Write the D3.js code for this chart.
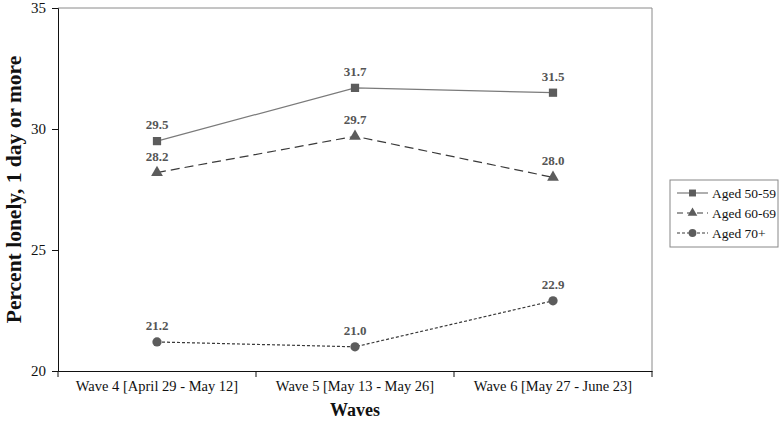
<!DOCTYPE html>
<html>
<head>
<meta charset="utf-8">
<script src="https://cdn.jsdelivr.net/npm/d3@7"></script>
<style>
  body { margin: 0; background: #fff; }
  svg { display: block; font-family: "Liberation Serif", "Times New Roman", serif; }
</style>
</head>
<body>
<svg id="chart" width="780" height="422"></svg>
<script>
const waves = ['Wave 4 [April 29 - May 12]', 'Wave 5 [May 13 - May 26]', 'Wave 6 [May 27 - June 23]']
const groups = ['Aged 50-59', 'Aged 60-69', 'Aged 70+']
const aged5059 = [29.5, 31.7, 31.5]
const aged6069 = [28.2, 29.7, 28.0]
const aged70 = [21.2, 21.0, 22.9]
const yTicks = [20, 25, 30, 35]

const series = [
  { name: groups[0], values: aged5059, shape: d3.symbolSquare, dash: null, stroke: '#7a7a7a' },
  { name: groups[1], values: aged6069, shape: d3.symbolTriangle, dash: '9,5', stroke: '#3a3a3a' },
  { name: groups[2], values: aged70, shape: d3.symbolCircle, dash: '3,2', stroke: '#3a3a3a' }
]

const svg = d3.select('#chart')
const margin = { left: 58, right: 128, top: 8, bottom: 51 }
const width = 780 - margin.left - margin.right
const height = 422 - margin.top - margin.bottom

const x = d3.scaleBand().domain(waves).range([0, width])
const y = d3.scaleLinear().domain([20, 35]).range([height, 0])

const g = svg.append('g').attr('transform', `translate(${margin.left},${margin.top})`)

// grey frame on top and right
g.append('path')
  .attr('d', `M0,0H${width}V${height}`)
  .attr('fill', 'none')
  .attr('stroke', '#8a8a8a')
  .attr('stroke-width', 1)

const xAxis = g.append('g')
  .attr('transform', `translate(0,${height})`)
  .call(d3.axisBottom(x).tickSize(0).tickPadding(10))
xAxis.selectAll('text').attr('font-size', 14.5).attr('fill', '#111').attr('font-family', 'Liberation Serif')
// ticks at band edges
xAxis.selectAll('line.edge')
  .data(d3.range(waves.length + 1))
  .enter().append('line')
    .attr('class', 'edge')
    .attr('x1', function (i) { return i * x.step() })
    .attr('x2', function (i) { return i * x.step() })
    .attr('y1', 0)
    .attr('y2', 6)
    .attr('stroke', '#111')
xAxis.select('.domain').attr('stroke', '#111')

const yAxis = g.append('g')
  .call(d3.axisLeft(y).tickValues(yTicks).tickSize(6).tickPadding(6))
yAxis.selectAll('text').attr('font-size', 15).attr('fill', '#111').attr('font-family', 'Liberation Serif')
yAxis.selectAll('line, .domain').attr('stroke', '#111')

// axis titles
svg.append('text')
  .attr('x', margin.left + width / 2)
  .attr('y', 416)
  .attr('text-anchor', 'middle')
  .attr('font-size', 18)
  .attr('font-weight', 'bold')
  .attr('fill', '#111')
  .text('Waves')

svg.append('text')
  .attr('transform', `translate(21,${margin.top + height / 2}) rotate(-90)`)
  .attr('text-anchor', 'middle')
  .attr('font-size', 21.5)
  .attr('font-weight', 'bold')
  .attr('fill', '#111')
  .text('Percent lonely, 1 day or more')

const line = d3.line()
  .x(function (d, i) { return x(waves[i]) + x.bandwidth() / 2 })
  .y(function (d) { return y(d) })

const markerFill = '#5c5c5c'

series.forEach(function (s) {
  const sg = g.append('g').attr('class', 'series')
  sg.append('path')
    .datum(s.values)
    .attr('d', line)
    .attr('fill', 'none')
    .attr('stroke', s.stroke)
    .attr('stroke-width', 1.2)
    .attr('stroke-dasharray', s.dash)

  sg.selectAll('path.mark')
    .data(s.values)
    .enter().append('path')
      .attr('class', 'mark')
      .attr('d', d3.symbol().type(s.shape).size(s.shape === d3.symbolTriangle ? 60 : 68))
      .attr('transform', function (d, i) { return `translate(${x(waves[i]) + x.bandwidth() / 2},${y(d)})` })
      .attr('fill', markerFill)

  sg.selectAll('text.val')
    .data(s.values)
    .enter().append('text')
      .attr('class', 'val')
      .attr('x', function (d, i) { return x(waves[i]) + x.bandwidth() / 2 })
      .attr('y', function (d) { return y(d) - 12 })
      .attr('text-anchor', 'middle')
      .attr('font-size', 13)
      .attr('font-weight', 'bold')
      .attr('fill', '#555')
      .text(function (d) { return d.toFixed(1) })
})

// legend
const legend = svg.append('g').attr('transform', 'translate(670,180)')
legend.append('rect')
  .attr('width', 108)
  .attr('height', 67)
  .attr('fill', '#fff')
  .attr('stroke', '#888')

const items = legend.selectAll('g.item')
  .data(series)
  .enter().append('g')
    .attr('class', 'item')
    .attr('transform', function (d, i) { return `translate(7,${13 + i * 20})` })

items.append('line')
  .attr('x1', 0).attr('x2', 31)
  .attr('stroke', function (d) { return d.stroke })
  .attr('stroke-width', 1.2)
  .attr('stroke-dasharray', function (d) { return d.dash === '9,5' ? '6,4' : d.dash })
items.append('path')
  .attr('d', function (d) { return d3.symbol().type(d.shape).size(d.shape === d3.symbolTriangle ? 40 : 48)() })
  .attr('transform', 'translate(15.5,0)')
  .attr('fill', markerFill)
items.append('text')
  .attr('x', 35)
  .attr('y', 4.5)
  .attr('font-size', 13.5)
  .attr('fill', '#111')
  .text(function (d) { return d.name })
</script>
</body>
</html>
